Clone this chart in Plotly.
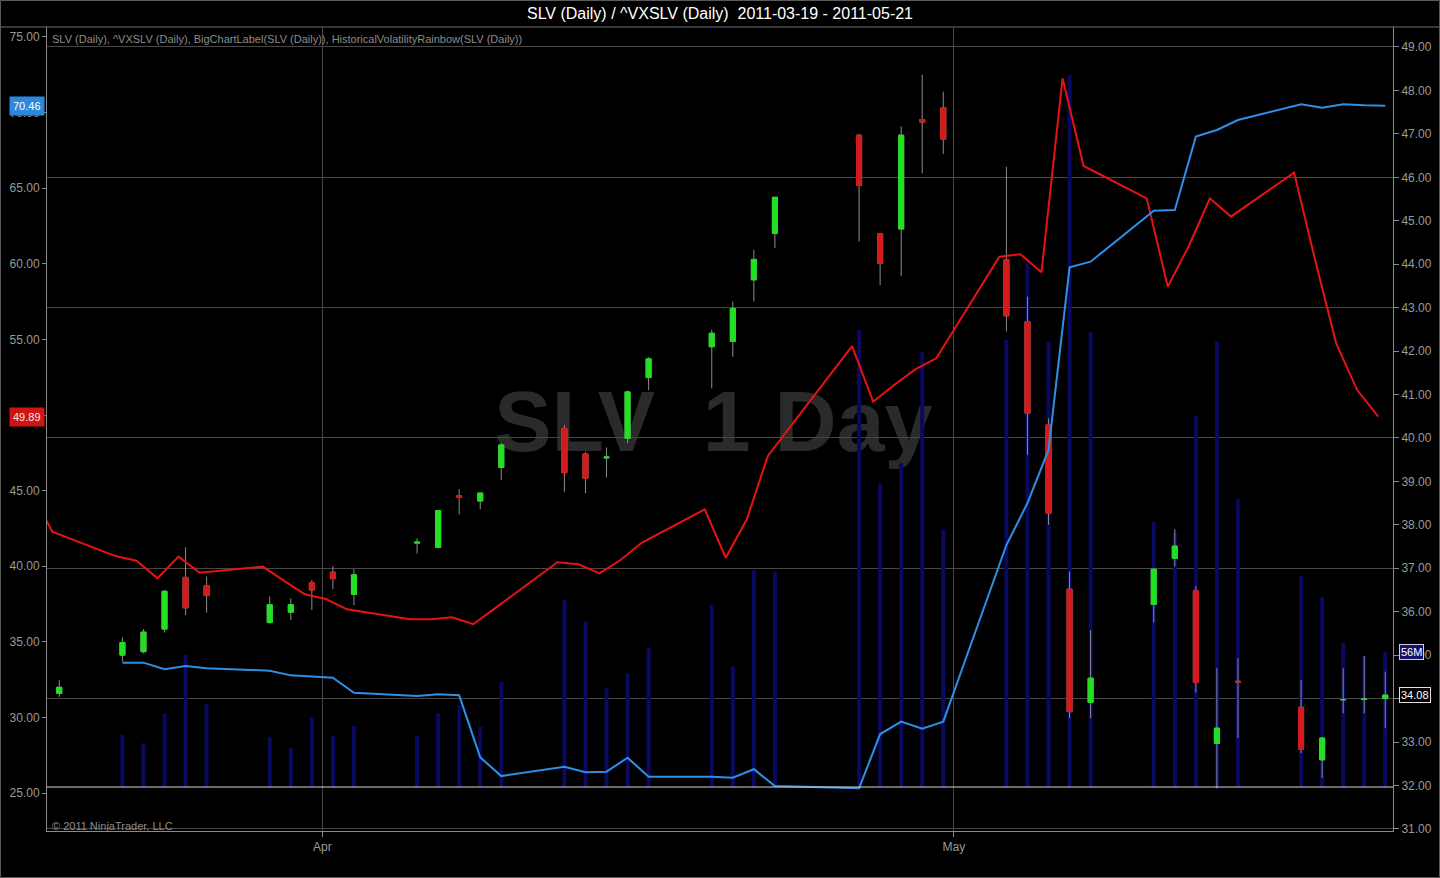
import pandas as pd
import plotly.graph_objects as go

# SLV daily bars (timestamped at session end, i.e. the day after the trade date)
bar_dates = [
    "2011-03-19",
    "2011-03-22", "2011-03-23", "2011-03-24", "2011-03-25", "2011-03-26",
    "2011-03-29", "2011-03-30", "2011-03-31", "2011-04-01", "2011-04-02",
    "2011-04-05", "2011-04-06", "2011-04-07", "2011-04-08", "2011-04-09",
    "2011-04-12", "2011-04-13", "2011-04-14", "2011-04-15", "2011-04-16",
    "2011-04-19", "2011-04-20", "2011-04-21", "2011-04-22",
    "2011-04-26", "2011-04-27", "2011-04-28", "2011-04-29", "2011-04-30",
    "2011-05-03", "2011-05-04", "2011-05-05", "2011-05-06", "2011-05-07",
    "2011-05-10", "2011-05-11", "2011-05-12", "2011-05-13", "2011-05-14",
    "2011-05-17", "2011-05-18", "2011-05-19", "2011-05-20", "2011-05-21",
]
slv_open = [34.12, 35.00, 35.08, 35.60, 36.79, 36.60, 35.75, 35.99, 36.67, 36.91, 36.40,
            37.58, 37.48, 38.67, 38.55, 39.32, 40.22, 39.63, 39.54, 39.99, 41.39,
            42.10, 42.22, 43.64, 44.71, 46.97, 44.70, 44.81, 47.33, 47.60,
            44.10, 42.68, 40.30, 36.52, 33.91, 36.17, 37.23, 36.48, 32.97, 34.40,
            33.80, 32.59, 33.97, 33.98, 34.00]
slv_high = [34.43, 35.41, 35.60, 36.50, 37.48, 36.81, 36.35, 36.31, 36.73, 37.05, 36.98,
            37.69, 38.34, 38.82, 38.74, 39.88, 40.30, 39.68, 39.78, 41.09, 41.86,
            42.49, 43.14, 44.33, 45.55, 46.99, 44.72, 47.17, 48.36, 47.97,
            46.24, 43.25, 40.45, 36.92, 35.58, 37.00, 37.90, 36.59, 34.70, 34.93,
            34.43, 33.12, 34.70, 34.98, 34.62]
slv_low = [34.04, 34.85, 35.04, 35.52, 35.92, 35.98, 35.73, 35.81, 36.04, 36.52, 36.15,
           37.34, 37.46, 38.24, 38.36, 39.03, 38.76, 38.73, 39.09, 39.88, 41.10,
           41.14, 41.87, 43.14, 44.37, 44.52, 43.52, 43.73, 46.09, 46.54,
           42.45, 39.61, 38.00, 33.55, 33.55, 35.75, 37.04, 34.14, 31.93, 33.09,
           32.74, 32.17, 33.66, 33.66, 33.32]
slv_close = [34.26, 35.29, 35.53, 36.47, 36.09, 36.37, 36.16, 36.16, 36.50, 36.76, 36.85,
             37.60, 38.33, 38.63, 38.73, 39.84, 39.20, 39.07, 39.56, 41.06, 41.82,
             42.41, 42.98, 44.11, 45.54, 45.81, 44.02, 46.97, 47.27, 46.88,
             42.81, 40.57, 38.27, 33.70, 34.47, 36.98, 37.51, 34.37, 33.32, 34.38,
             32.83, 33.09, 33.98, 33.99, 34.08]
slv_volume_m = [None, 21.4, 18.0, 30.3, 54.3, 34.2, 20.7, 16.2, 28.7, 21.0, 25.1,
                21.0, 30.3, 33.7, 24.8, 43.3, 77.0, 68.0, 40.6, 46.8, 57.1,
                74.9, 49.5, 89.3, 88.6, 188.1, 125.0, 133.3, 179.1, 105.8,
                184.0, 215.5, 183.3, 293.0, 187.4, 109.2, 104.9, 152.7, 183.3, 118.4,
                86.8, 78.3, 59.4, 53.9, 55.7]

# HistoricalVolatilityRainbow(SLV) - blue
hv_dates = bar_dates[1:]
hv_values = [33.62, 33.62, 33.18, 33.40, 33.25, 33.09, 32.78, 32.69, 32.63, 31.63,
             31.42, 31.53, 31.46, 27.36, 26.12, 26.74, 26.37, 26.41, 27.33, 26.08,
             26.08, 26.01, 26.57, 25.46, 25.31, 28.90, 29.72, 29.25, 29.72,
             41.40, 44.18, 47.69, 59.77, 60.14, 63.51, 63.56, 68.41, 68.85, 69.51,
             70.55, 70.32, 70.55, 70.48, 70.46]

# ^VXSLV - red
vx_dates = ["2011-03-18"] + bar_dates
vx_values = [44.93, 42.28, 40.67, 40.36, 39.20, 40.63, 39.57, 39.97, 39.05, 38.14, 37.83, 37.15,
             36.49, 36.49, 36.62, 36.16, 37.18, 40.26, 40.13, 39.53, 40.41, 41.55,
             43.76, 40.56, 43.10, 47.29, 54.56, 50.88, 51.98, 53.02, 53.75,
             60.47, 60.63, 59.44, 72.27, 66.47, 64.33, 58.49, 61.18, 64.33, 63.12,
             66.03, 60.25, 54.74, 51.65, 49.89]

GREEN = "#22e022"
RED = "#d41a1a"
WICK = "#8c8c8c"
GRID = "#474747"
AXIS = "#8a8a8a"
TXT = "#9a9a9a"
FONT = "Liberation Sans, Arial, sans-serif"

# bars drawn mid-session; the VXSLV feed is stamped a few hours earlier
bar_x = pd.to_datetime(bar_dates) + pd.Timedelta(hours=12)
hv_x = pd.to_datetime(hv_dates) + pd.Timedelta(hours=12)
vx_x = pd.to_datetime(vx_dates) + pd.Timedelta(hours=4)

body_hi = [max(o, c) for o, c in zip(slv_open, slv_close)]
body_lo = [min(o, c) for o, c in zip(slv_open, slv_close)]

fig = go.Figure()

# volume (base axis, hidden)
fig.add_trace(go.Bar(x=bar_x, y=slv_volume_m, yaxis="y", width=0.19 * 86400000,
                     marker=dict(color="#09095f", line=dict(width=0)),
                     showlegend=False, hoverinfo="skip"))

# wicks
fig.add_trace(go.Candlestick(x=bar_x, open=slv_open, high=slv_high, low=slv_low,
                             close=slv_close, yaxis="y2", showlegend=False,
                             increasing=dict(line=dict(color=WICK, width=1), fillcolor=WICK),
                             decreasing=dict(line=dict(color=WICK, width=1), fillcolor=WICK)))
# bodies
fig.add_trace(go.Candlestick(x=bar_x, open=slv_open, high=body_hi, low=body_lo,
                             close=slv_close, yaxis="y2", showlegend=False, name="SLV",
                             increasing=dict(line=dict(color=GREEN, width=1), fillcolor=GREEN),
                             decreasing=dict(line=dict(color=RED, width=1), fillcolor=RED)))

fig.add_trace(go.Scatter(x=vx_x, y=vx_values, yaxis="y3", mode="lines", name="^VXSLV",
                         line=dict(color="#e81212", width=2), showlegend=False))
fig.add_trace(go.Scatter(x=hv_x, y=hv_values, yaxis="y3", mode="lines", name="HV",
                         line=dict(color="#2f8fe8", width=2), showlegend=False))

W, H = 1440, 878
ML, MR, MT, MB = 47, 47, 27, 47
pw, ph = W - ML - MR, H - MT - MB

title_txt = "SLV (Daily) / ^VXSLV (Daily)\u00a0\u00a0%s - %s" % (bar_dates[0], bar_dates[-1])

fig.update_layout(
    width=W, height=H, autosize=False,
    margin=dict(l=ML, r=MR, t=MT, b=MB, pad=0, autoexpand=False),
    paper_bgcolor="black", plot_bgcolor="black",
    font=dict(family=FONT, color=TXT, size=12),
    showlegend=False,
    boxgap=0.76, boxgroupgap=0,
    title=dict(text=title_txt, x=0.5, xref="container", xanchor="center",
               y=1 - 13 / H, yref="container", yanchor="middle",
               font=dict(size=16, color="white", family=FONT)),
    xaxis=dict(type="date", range=["2011-03-18 22:00", "2011-05-21 20:48"],
               tickvals=["2011-04-01", "2011-05-01"], ticktext=["Apr", "May"],
               showgrid=True, gridcolor=GRID, gridwidth=1, automargin=False,
               ticks="outside", ticklen=5, tickcolor=AXIS,
               showline=True, linecolor=AXIS, linewidth=1, zeroline=False,
               tickfont=dict(size=12, color=TXT),
               rangeslider=dict(visible=False)),
    yaxis=dict(range=[-18.1, 312.8], visible=False, fixedrange=True, automargin=False),
    yaxis2=dict(overlaying="y", side="right", anchor="x", automargin=False,
                range=[30.952, 49.460], tick0=31, dtick=1, tickformat=".2f",
                showgrid=False, zeroline=False, showline=True, linecolor=AXIS,
                ticks="outside", ticklen=5, tickcolor=AXIS,
                tickfont=dict(size=12, color=TXT)),
    yaxis3=dict(overlaying="y", side="left", anchor="x", automargin=False,
                range=[22.487, 75.661], tick0=25, dtick=5, tickformat=".2f",
                showgrid=False, zeroline=False, showline=True, linecolor=AXIS,
                ticks="outside", ticklen=4, tickcolor=AXIS,
                tickfont=dict(size=12, color=TXT)),
    yaxis4=dict(overlaying="y", side="right", anchor="x", automargin=False,
                range=[30.952, 49.460], tick0=31, dtick=3,
                showgrid=True, gridcolor=GRID, gridwidth=1,
                showticklabels=False, ticks="", showline=False, zeroline=False),
)

# gridline helper axis needs something plotted on it
fig.add_trace(go.Scatter(x=[bar_x[0]], y=[None], yaxis="y4", showlegend=False,
                         hoverinfo="skip"))

fig.add_shape(type="rect", xref="paper", yref="paper",
              x0=0.25, x1=0.74, y0=0.46, y1=0.58, layer="below",
              line=dict(width=0), fillcolor="rgba(0,0,0,0)",
              label=dict(text="SLV\u00a0\u00a01 Day", textposition="middle center",
                         font=dict(size=86, color="#2a2a2a", family=FONT, weight="bold")))
# volume baseline
fig.add_shape(type="line", xref="paper", yref="y", x0=0, x1=1, y0=0, y1=0,
              line=dict(color="#d8d8d8", width=1))
# title separator and window frame
fig.add_shape(type="line", xref="paper", yref="paper",
              x0=-ML / pw, x1=1 + MR / pw, y0=1, y1=1,
              line=dict(color="#6a6a6a", width=1))
fig.add_shape(type="rect", xref="paper", yref="paper",
              x0=(0.5 - ML) / pw, x1=(W - 0.5 - ML) / pw,
              y0=-(MB - 0.5) / ph, y1=1 + (MT - 0.5) / ph,
              line=dict(color="#5a5a5a", width=1))

fig.add_annotation(text="SLV (Daily), ^VXSLV (Daily), BigChartLabel(SLV (Daily)), "
                        "HistoricalVolatilityRainbow(SLV (Daily))",
                   xref="paper", yref="paper", x=0.002, y=1 - 12 / ph,
                   xanchor="left", yanchor="middle", showarrow=False,
                   font=dict(size=11, color="#8c8c8c"))
fig.add_annotation(text="\u00a9 2011 NinjaTrader, LLC",
                   xref="paper", yref="paper", x=0.002, y=5 / ph,
                   xanchor="left", yanchor="middle", showarrow=False,
                   font=dict(size=11, color="#8c8c8c"))

# last-value markers (cover the axis labels underneath, as on the original chart)
fig.add_annotation(text="%.2f" % hv_values[-1], xref="paper", yref="y3",
                   x=0, y=hv_values[-1], xanchor="right", xshift=-2, showarrow=False,
                   bgcolor="#2d87da", borderpad=3, font=dict(size=11, color="white"))
fig.add_annotation(text="%.2f" % vx_values[-1], xref="paper", yref="y3",
                   x=0, y=vx_values[-1], xanchor="right", xshift=-2, showarrow=False,
                   bgcolor="#d01414", borderpad=3, font=dict(size=11, color="#e8e8e8"))
fig.add_annotation(text="%.2f" % slv_close[-1], xref="paper", yref="y2",
                   x=1, y=slv_close[-1], xanchor="left", xshift=6, showarrow=False,
                   bgcolor="black", bordercolor="#e0e0e0", borderwidth=1, borderpad=1,
                   font=dict(size=11, color="white"))
fig.add_annotation(text="%dM" % round(slv_volume_m[-1]), xref="paper", yref="y",
                   x=1, y=slv_volume_m[-1], xanchor="left", xshift=6, showarrow=False,
                   bgcolor="#12126e", bordercolor="#d0d0d0", borderwidth=1, borderpad=1,
                   font=dict(size=11, color="white"))

fig.write_html("out.html", config={"displayModeBar": False},
               post_script="document.body.style.margin='0px';")
